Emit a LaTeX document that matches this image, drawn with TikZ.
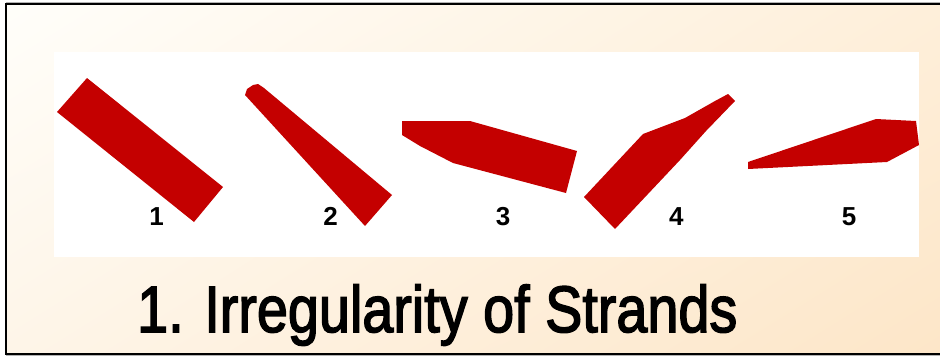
\documentclass[tikz,border=0pt]{standalone}
\usepackage{fontspec}
\usetikzlibrary{shadings}
\setmainfont{Liberation Sans}
\newfontfamily\titlefont[FakeBold=2.5]{Liberation Sans}
\definecolor{strandred}{RGB}{196,0,0}
\definecolor{bgA}{RGB}{255,254,250}
\definecolor{bgB}{RGB}{254,239,218}
\definecolor{bgC}{RGB}{254,245,232}
\definecolor{bgD}{RGB}{253,230,200}
\tikzset{
  strand/.style={fill=strandred, draw=none},
  numlabel/.style={font=\fontsize{26}{28}\selectfont\bfseries, inner sep=0pt, anchor=center},
  titletext/.style={font=\titlefont\fontsize{65.6}{70}\selectfont, inner sep=0pt, anchor=base west, xscale=0.85}
}
\begin{document}
\begin{tikzpicture}[x=1pt,y=-1pt]
\useasboundingbox (0,0) rectangle (940,356);
\fill[white] (0,0) rectangle (940,356);
% gradient background inside frame
\shade[upper left=bgA, upper right=bgB, lower left=bgC, lower right=bgD] (6,4) rectangle (940,354);
% frame shadow lines
\draw[gray!60, line width=1pt] (6,2.2) -- (940,2.2);
\draw[gray!60, line width=1pt] (6,355.6) -- (940,355.6);
% frame
\draw[black, line width=2pt] (945,4) -- (6,4) -- (6,354) -- (945,354);
% white panel
\fill[white] (54,52) rectangle (919,257);
% strands
\fill[strand] (87,78) -- (57,112) -- (194,222) -- (223,187) -- cycle;
\fill[strand] (245,95) -- (247,89) -- (253,85) -- (258,84) -- (264,88) -- (392,195) -- (365,226) -- cycle;
\fill[strand] (402,121) -- (470,121) -- (577,151) -- (566,193) -- (453,163) -- (420,146) -- (402,135) -- cycle;
\fill[strand] (584,197) -- (643,134) -- (685,118) -- (715,101) -- (728,94) -- (735,101) -- (706,131) -- (680,160) -- (615,229) -- cycle;
\fill[strand] (748,162) -- (876,119) -- (916,121) -- (919,145) -- (887,162) -- (748,169) -- cycle;
% labels
\node[numlabel] (n1) at (156.7,216.5) {1};
\node[numlabel] (n2) at (330.7,216.5) {2};
\node[numlabel] (n3) at (503,216.5) {3};
\node[numlabel] (n4) at (676.4,216.5) {4};
\node[numlabel] (n5) at (849,216.5) {5};
% title
\node[titletext] (title) at (137,332) {1. Irregularity of Strands};
\end{tikzpicture}
\end{document}
